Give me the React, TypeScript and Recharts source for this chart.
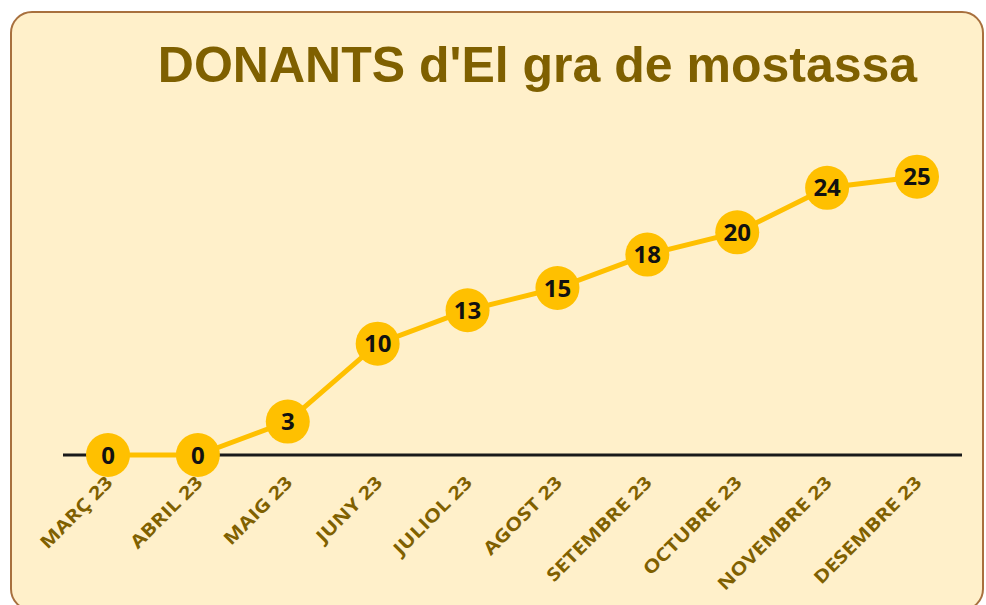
import { LineChart, Line, XAxis, YAxis, LabelList, ReferenceLine } from "recharts";

const months = [
  "MARÇ 23",
  "ABRIL 23",
  "MAIG 23",
  "JUNY 23",
  "JULIOL 23",
  "AGOST 23",
  "SETEMBRE 23",
  "OCTUBRE 23",
  "NOVEMBRE 23",
  "DESEMBRE 23",
];
const donors = [0, 0, 3, 10, 13, 15, 18, 20, 24, 25];

const chartData = months.map((month, i) => ({ month, value: donors[i] }));

const BROWN = "#7f6000";
const GOLD = "#ffc000";

function MonthTick({ x, y, payload }: any) {
  return (
    <g transform={`translate(${x - 5},${y + 10})`}>
      <text
        transform="rotate(-45) scale(1.2,1)"
        textAnchor="end"
        dominantBaseline="hanging"
        fill={BROWN}
        fontFamily="'Open Sans', sans-serif"
        fontWeight={700}
        fontSize={18}
      >
        {payload.value}
      </text>
    </g>
  );
}

export default function App() {
  return (
    <div style={{ position: "absolute", left: 0, top: 0, width: 986, height: 605, overflow: "hidden", background: "#fff" }}>
      <div
        style={{
          position: "absolute",
          left: 10,
          top: 11,
          width: 974,
          height: 600,
          boxSizing: "border-box",
          border: "2px solid #a8703e",
          borderRadius: 22,
          background: "#fff0ca",
        }}
      />
      <div
        style={{
          position: "absolute",
          left: 0,
          top: 35,
          width: 1075,
          textAlign: "center",
          fontFamily: "'Liberation Sans', Arial, sans-serif",
          fontWeight: 700,
          fontSize: 50,
          lineHeight: "60px",
          color: BROWN,
        }}
      >
        DONANTS d'El gra de mostassa
      </div>
      <div style={{ position: "absolute", left: 0, top: 0 }}>
        <LineChart width={986} height={605} data={chartData} margin={{ top: 121, right: 24, bottom: 0, left: 63 }}>
          <XAxis
            dataKey="month"
            padding={{ left: 45, right: 45 }}
            axisLine={false}
            tickLine={false}
            tick={<MonthTick />}
            interval={0}
            height={150}
          />
          <YAxis hide domain={[0, 30]} width={0} />
          <ReferenceLine y={0} stroke="#1a1a1a" strokeWidth={3} />
          <Line
            dataKey="value"
            stroke={GOLD}
            strokeWidth={5}
            dot={{ r: 22, fill: GOLD, stroke: "none" }}
            activeDot={false}
            isAnimationActive={false}
          >
            <LabelList
              dataKey="value"
              position="center"
              fill="#111"
              fontFamily="'Open Sans', sans-serif"
              fontWeight={700}
              fontSize={24}
            />
          </Line>
        </LineChart>
      </div>
    </div>
  );
}
